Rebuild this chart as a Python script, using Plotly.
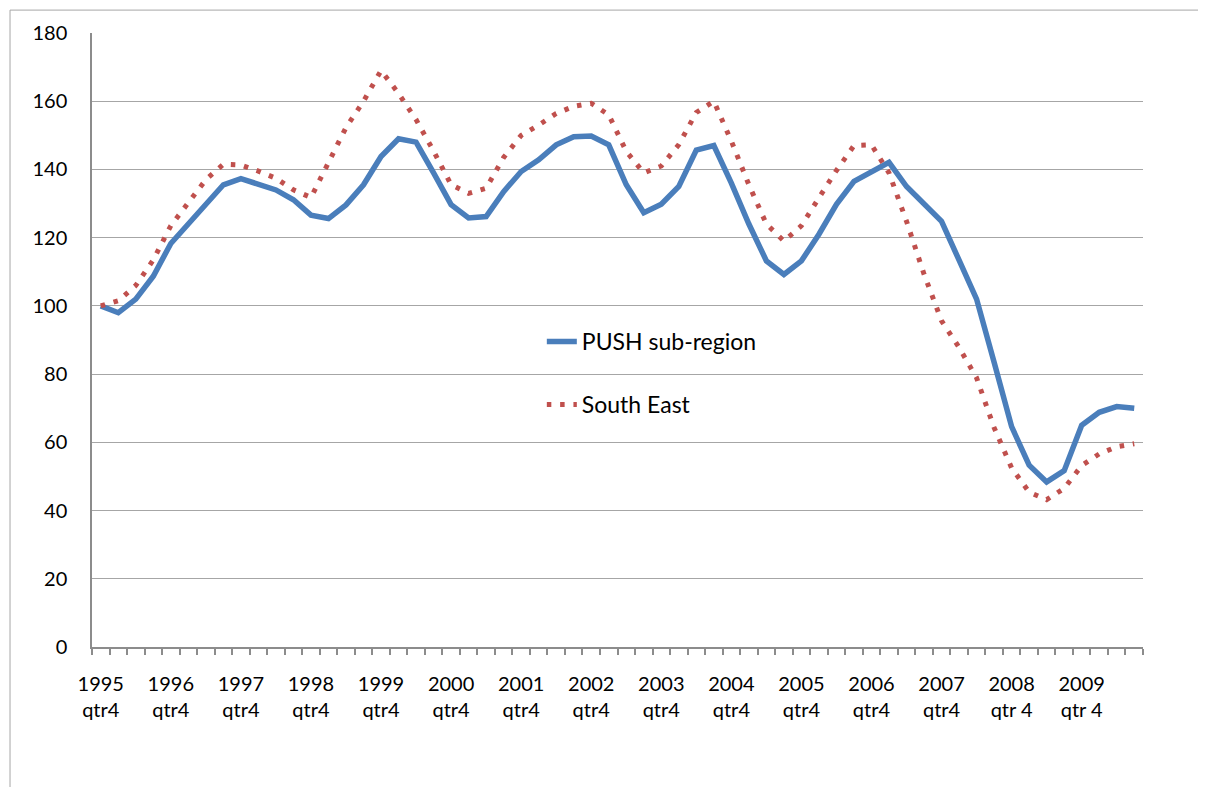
import plotly.graph_objects as go

# Quarterly categories: 1995 Q4 ... 2010 Q3
quarters = ["1995 Q4"] + [f"{y} Q{q}" for y in range(1996, 2010) for q in (1, 2, 3, 4)] + ["2010 Q1", "2010 Q2", "2010 Q3"]

# Labels shown every fourth quarter (Q4 of each year)
label_map = {
    "1995 Q4": "1995<br>qtr4", "1996 Q4": "1996<br>qtr4", "1997 Q4": "1997<br>qtr4",
    "1998 Q4": "1998<br>qtr4", "1999 Q4": "1999<br>qtr4", "2000 Q4": "2000<br>qtr4",
    "2001 Q4": "2001<br>qtr4", "2002 Q4": "2002<br>qtr4", "2003 Q4": "2003<br>qtr4",
    "2004 Q4": "2004<br>qtr4", "2005 Q4": "2005<br>qtr4", "2006 Q4": "2006<br>qtr4",
    "2007 Q4": "2007<br>qtr4", "2008 Q4": "2008<br>qtr 4", "2009 Q4": "2009<br>qtr 4",
}

push = [100, 98, 102, 108.7, 118.3, 124, 130.1, 135.5, 137.3, 135.5,
        134, 131.1, 126.6, 125.6, 129.6, 135.5, 143.8, 149, 148, 139,
        129.7, 125.8, 126.2, 133.5, 139.4, 142.8, 147.2, 149.6, 149.8, 147.2,
        135.5, 127.3, 129.8, 135, 145.7, 147, 136, 124, 113.2, 109.2,
        113.2, 121, 129.8, 136.5, 139.3, 142.1, 135, 129.9, 124.8, 113.4,
        102, 83.5, 64.6, 53.3, 48.4, 51.7, 65, 68.8, 70.5, 70]

south_east = [100, 101.5, 106, 113.5, 123.5, 130.3, 137, 141.5, 141.3, 139.5,
              137.4, 134, 131.8, 142, 152.3, 160, 169, 162.3, 154.6, 145.4,
              135.5, 133, 134.5, 143.5, 150, 153, 156.4, 158.5, 159.4, 156,
              145.3, 139, 141, 147.3, 156.7, 160, 148.3, 135.5, 124, 119,
              123.5, 131.7, 139.7, 147, 147.2, 139, 124.8, 109.3, 95.6, 87.8,
              78.9, 64.3, 52.5, 45.4, 43.2, 46.5, 53.2, 56.6, 58.7, 59.6]

ticktext = [label_map.get(q, "") for q in quarters]

FONT = "Lato, 'Open Sans', sans-serif"

fig = go.Figure()
fig.add_trace(go.Scatter(
    x=quarters, y=push, mode="lines", name="PUSH sub-region",
    legendgroup="a",
    line=dict(color="#4A7EBB", width=5.5),
))
fig.add_trace(go.Scatter(
    x=quarters, y=south_east, mode="lines", name="South East",
    legendgroup="b",
    line=dict(color="#C0504D", width=5, dash="4.5px,8.8px"),
))

# page has an 8px body margin, so the figure is sized/offset to compensate
fig.update_layout(
    width=1198, height=779,
    margin=dict(l=84, r=63, t=23, b=140),
    paper_bgcolor="white", plot_bgcolor="white",
    font=dict(family=FONT, size=20, color="#000000"),
    showlegend=True,
    legend=dict(
        x=0.428, y=0.5325, xanchor="left", yanchor="top",
        bgcolor="rgba(0,0,0,0)", font=dict(size=23),
        tracegroupgap=30, traceorder="grouped",
    ),
    xaxis=dict(
        type="category",
        range=[-0.5, len(quarters) - 0.5],
        tickmode="array", tickvals=quarters, ticktext=ticktext,
        tickson="boundaries", ticks="outside", ticklen=6, tickwidth=1.5,
        tickcolor="#8C8C8C",
        showline=True, linecolor="#8C8C8C", linewidth=1.5,
        showgrid=False, tickangle=0, ticklabelstandoff=18,
        tickfont=dict(size=20),
    ),
    yaxis=dict(
        range=[0, 180], dtick=20, tick0=0,
        showgrid=True, gridcolor="#A6A6A6", gridwidth=1.2,
        showline=True, linecolor="#8C8C8C", linewidth=1.5,
        ticks="", zeroline=False, ticklabelstandoff=19,
        tickfont=dict(size=20),
    ),
    shapes=[
        dict(type="line", xref="paper", yref="paper", x0=-0.078, x1=1.07, y0=1.0373, y1=1.0373,
             line=dict(color="#A6A6A6", width=1)),
        dict(type="line", xref="paper", yref="paper", x0=-0.078, x1=-0.078, y0=1.0373, y1=-0.25,
             line=dict(color="#A6A6A6", width=1)),
    ],
)

fig.write_html("out.html")
